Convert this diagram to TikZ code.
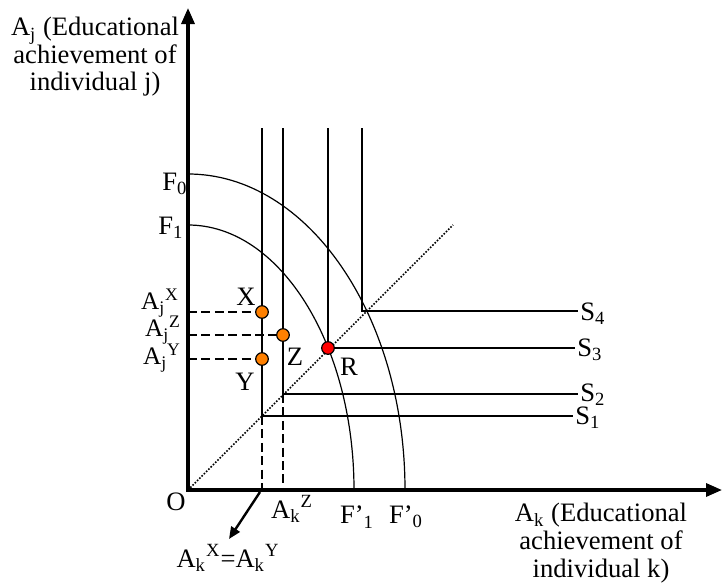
\documentclass[tikz,border=0pt]{standalone}
\usepackage{fontspec}
\setmainfont{Liberation Serif}
\usetikzlibrary{arrows.meta}

\begin{document}
\begin{tikzpicture}[
  x=0.5pt, y=0.5pt,
  font=\fontsize{13.3}{13.8}\selectfont,
  axis/.style={line width=1.6pt, {Triangle[length=8pt, width=6.5pt]}-{Triangle[length=8pt, width=6.5pt]}},
  sline/.style={line width=0.7pt},
  fcurve/.style={line width=0.6pt},
  guide/.style={line width=1.2pt, dash pattern=on 4.5pt off 2.2pt},
  diag/.style={line width=0.8pt, dash pattern=on 0.8pt off 0.8pt},
  opt/.style={circle, draw, line width=0.6pt, fill=orange, minimum size=6.3pt, inner sep=0pt},
  eq/.style={opt, fill=red},
  lbl/.style={inner sep=1pt},
  ajlbl/.style={inner sep=0pt, font=\fontsize{12.6}{13}\selectfont},
  note/.style={align=center, inner sep=0pt},
]
\useasboundingbox (-188,-95) rectangle (534,490);
% ---- axes ----
\coordinate (O) at (0,0);
\coordinate (ytop) at (0,482);
\coordinate (xend) at (534,0);
\draw[axis] (ytop) -- (O) -- (xend);
\node[note] (ylab) at (-93,433) {A\textsubscript{j} (Educational\\achievement of\\individual j)};
\node[note] (xlab) at (413,-53) {A\textsubscript{k} (Educational\\achievement of\\individual k)};
\node[lbl] (olab) at (-12,-12) {O};
% ---- frontiers ----
\coordinate (f0top) at (0,316);
\coordinate (f1top) at (0,265);
\draw[fcurve] (f0top) arc[start angle=90, end angle=0, x radius=217, y radius=316] coordinate (f0end);
\draw[fcurve] (f1top) arc[start angle=90, end angle=0, x radius=166, y radius=265] coordinate (f1end);
\node[lbl] (f0lab) at (-13,306) {F\textsubscript{0}};
\node[lbl] (f1lab) at (-17,262) {F\textsubscript{1}};
\node[lbl] (f0plab) at (218,-27) {F’\textsubscript{0}};
\node[lbl] (f1plab) at (169,-27) {F’\textsubscript{1}};
% ---- diagonal ----
\coordinate (dend) at (265,265);
\draw[diag] (O) -- (dend);
% ---- L-shaped lines S1..S4 ----
\coordinate (c1) at (74,74);   \coordinate (t1) at (74,362);  \coordinate (e1) at (385,74);
\coordinate (c2) at (95,96);   \coordinate (t2) at (95,362);  \coordinate (e2) at (390,96);
\coordinate (c3) at (140,142); \coordinate (t3) at (140,362); \coordinate (e3) at (387,142);
\coordinate (c4) at (174,179); \coordinate (t4) at (174,362); \coordinate (e4) at (390,179);
\draw[sline] (t1) -- (c1) -- (e1);
\draw[sline] (t2) -- (c2) -- (e2);
\draw[sline] (t3) -- (c3) -- (e3);
\draw[sline] (t4) -- (c4) -- (e4);
\node[lbl, anchor=west] (s1lab) at ([yshift=-1pt]e1) {S\textsubscript{1}};
\node[lbl, anchor=west] (s2lab) at ([yshift=-0.5pt]e2) {S\textsubscript{2}};
\node[lbl, anchor=west] (s3lab) at ([yshift=-1pt]e3) {S\textsubscript{3}};
\node[lbl, anchor=west] (s4lab) at ([yshift=-1.5pt]e4) {S\textsubscript{4}};
% ---- points X, Z, Y, R ----
\node[opt] (px) at (74,178) {};
\node[opt] (pz) at (95,155) {};
\node[opt] (py) at (74,131) {};
\node[eq]  (pr) at (c3) {};
\node[lbl] (xlabel) at (58,193) {X};
\node[lbl] (zlabel) at (107,133) {Z};
\node[lbl] (ylabel) at (57,108) {Y};
\node[lbl] (rlabel) at (161,123) {R};
% ---- dashed guides ----
\coordinate (ajx) at (0,178);
\coordinate (ajz) at (0,155);
\coordinate (ajy) at (0,131);
\draw[guide] (ajx) -- (px);
\draw[guide] (ajz) -- (pz);
\draw[guide] (ajy) -- (py);
\draw[guide] (c1) -- (c1 |- O);
\draw[guide] (c2) -- (c2 |- O);
\node[ajlbl] (ajxlab) at (-28,187) {A\textsubscript{j}\textsuperscript{X}};
\node[ajlbl] (ajzlab) at (-25,160) {A\textsubscript{j}\textsuperscript{Z}};
\node[ajlbl] (ajylab) at (-26,132) {A\textsubscript{j}\textsuperscript{Y}};
\node[lbl] (akzlab) at (104,-19) {A\textsubscript{k}\textsuperscript{Z}};
% ---- pointer to A_k^X = A_k^Y ----
\coordinate (akx) at (72,-2);
\node[lbl] (akxlab) at (40,-68) {A\textsubscript{k}\textsuperscript{X}=A\textsubscript{k}\textsuperscript{Y}};
\draw[line width=1.2pt, -{Triangle[length=6pt, width=5pt]}] (akx) -- (41,-49);
\end{tikzpicture}
\end{document}
